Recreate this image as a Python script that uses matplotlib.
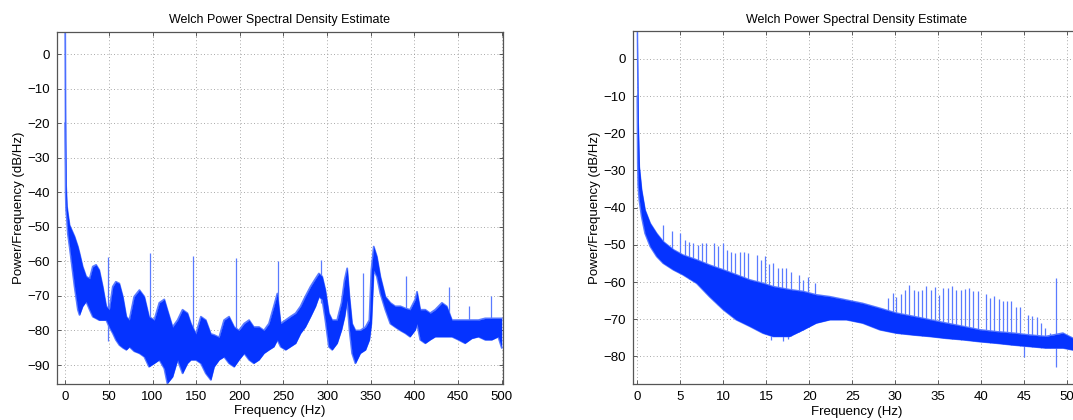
import matplotlib.pyplot as plt
import numpy as np

plt.rcParams.update({
    "font.family": ["Liberation Sans", "DejaVu Sans"],
    "font.size": 8.5})

# ---- left panel: 0-500 Hz, envelope of the PSD (dB/Hz)
f1 = [0, 0.5, 1, 2, 3, 5, 10.7, 14.5, 16.4, 20, 24, 28, 31.6, 35.4, 39, 43, 47, 50.6, 54.5, 58,
      62, 66, 70, 73.5, 79, 85, 90.6, 96, 102, 107.8, 113.5, 117, 123, 128.7, 134.4, 140, 144,
      149.7, 155.4, 161, 166.8, 170.6, 176.3, 182, 187.7, 193.5, 199, 205, 210.6, 216, 222,
      227.7, 233.4, 239, 243, 246.8, 252.5, 258, 264, 269.6, 275, 281, 286.7, 290.6, 294.4,
      298, 302, 305.8, 311.5, 316.5, 320, 323, 325.6, 328.6, 332.4, 338, 344, 348.4, 350.7,
      353.4, 357, 361, 366.7, 372.4, 378, 384, 389.6, 395, 401, 403, 406.7, 412.4, 418, 423.8,
      431.5, 437, 443, 450.5, 458, 465.7, 473.3, 481, 488.6, 496, 500]
hi1 = [8, -25, -38, -44, -46, -49.5, -52.8, -55.7, -57.6, -61.5, -64.4, -65, -61.5, -61, -62.5,
       -67.3, -73, -74, -67.3, -65.9, -66.4, -70.2, -76, -77, -70.2, -68.3, -70.2, -76, -77, -72,
       -71, -74, -79, -77, -74, -75, -78, -81, -76, -77, -81, -81.3, -82, -77, -76, -79, -80, -78,
       -77, -79, -79, -80, -78, -73, -69.3, -78, -77, -76, -75, -73, -70.2, -67.3, -65, -63.5,
       -64.4, -68.3, -75, -77, -77, -72, -65.4, -62, -70.2, -78, -80, -80, -79, -77, -62.5,
       -55.7, -58.6, -64.4, -70.2, -72, -73, -73, -73.6, -74, -71, -68.8, -74, -74, -75, -74, -72,
       -73, -77, -77, -77, -77, -77, -76.5, -76.5, -76.5, -76.5]
lo1 = [-20, -40, -45, -48, -52, -55.7, -67.3, -74, -75.5, -73, -71.6, -74, -76, -76.5, -77, -77,
       -77, -79, -80.8, -82.7, -84.2, -85, -85.6, -84.7, -86, -86.6, -87.6, -90.5, -89.5, -88.5,
       -91, -95.3, -93.4, -88.5, -92.4, -89.5, -88.5, -88.5, -89.5, -92.4, -94.3, -90.5, -88.5,
       -87.6, -89.5, -90.5, -88.5, -86.6, -88.5, -89.5, -88.5, -86.6, -85.6, -84.7, -82.7, -84.7,
       -85.6, -84.7, -83.7, -80.8, -79, -76, -73, -70.2, -71, -77, -84.7, -85.6, -83.7, -79.8,
       -76, -71.2, -79.8, -86.6, -89.5, -86.6, -85.6, -82.7, -78, -62.5, -64.4, -69.3, -74, -78,
       -79, -80, -80.8, -81.8, -79.8, -78, -82.7, -83.7, -82.7, -81.8, -81.8, -81.8, -81.8,
       -82.7, -83.7, -82.3, -81.8, -82.7, -82.7, -81.8, -85]
# narrow line components
sp1_f = [48.8, 97.6, 146.4, 195.2, 244, 292.8, 341.6, 390.4, 439.2, 462.7, 488]
sp1_top = [-58.6, -57.6, -58.4, -58.9, -60, -59.7, -63.5, -64.2, -67.3, -73, -70]
sp1_bot = [-83, -88, -86, -86, -80, -72, -84, -80, -80, -82, -81]

# ---- right panel: 0-50 Hz zoom
f2 = [0, 0.05, 0.1, 0.23, 0.5, 0.9, 1.5, 2.25, 3, 4.2, 5.3, 6.9, 8.4, 10, 11.5, 13.1, 14.6, 15.8,
      17.7, 19.3, 20.8, 22.4, 24.3, 26.2, 28.2, 30.1, 32.1, 34, 35.9, 37.9, 39.8, 41.7, 43.7,
      45.6, 47.5, 49.5, 50.6, 51.5]
hi2 = [9, -5, -17, -29, -35.2, -40.6, -44.2, -46.9, -49.1, -51.3, -52.7, -54, -55.4, -56.7, -58,
       -59.4, -60.3, -61.2, -62, -62.5, -63.4, -63.9, -64.8, -65.7, -67, -68.3, -69.2, -70.1, -71,
       -71.9, -72.8, -73.3, -73.7, -74.2, -74.6, -73.7, -75, -75.5]
lo2 = [-10, -28, -34, -38, -42.4, -46.9, -50.4, -53.1, -54.9, -56.7, -58, -60.3, -63.9, -67.4,
       -70.1, -71.9, -73.7, -74.6, -74.6, -72.8, -71, -70.1, -70.1, -71, -72.8, -73.7, -74.2,
       -74.6, -75.1, -75.5, -76, -76.4, -76.9, -77.3, -77.7, -77.7, -78.2, -78.5]
sp2_f = [3.02, 4.03, 4.96, 5.54, 6.04, 6.50, 7.01, 7.47, 7.98, 8.90, 9.41, 9.91, 10.41, 10.88,
         11.38, 11.89, 12.39, 12.89, 13.90, 14.36, 14.87, 15.33, 15.83, 16.34, 16.80, 17.31,
         17.89, 18.82, 19.32, 19.82, 20.71,
         29.19, 29.69, 30.12, 30.62, 31.13, 31.63, 32.13, 32.6, 33.1, 33.6, 34.1, 34.61, 35.07,
         35.58, 36.08, 36.59, 37.09, 37.59, 38.1, 38.6, 39.06, 39.57, 40.53, 41.04, 41.54, 42.04,
         42.51, 43.01, 43.52, 44.02, 44.48, 45.49, 45.95, 46.46, 46.96, 47.46, 47.97, 48.7]
sp2_top = [-44.6, -46.4, -46.7, -48.6, -49.1, -49.5, -50.0, -49.4, -49.4, -49.4, -50.4, -49.5,
           -51.3, -51.8, -52.2, -51.8, -52.0, -52.2, -52.7, -54.0, -53.1, -55.1, -54.9, -56.3,
           -56.3, -56.3, -57.2, -58.1, -59.4, -58.5, -60.3,
           -64.3, -63.0, -63.9, -63.2, -62.1, -60.7, -62.1, -62.3, -62.1, -61.0, -62.1, -61.2,
           -63.4, -61.6, -61.6, -61.0, -62.1, -62.1, -61.9, -61.6, -62.5, -62.5, -63.2, -64.3,
           -63.7, -64.6, -65.2, -65.2, -65.2, -66.7, -66.7, -68.8, -69.2, -69.4, -70.9, -72.4,
           -73.7, -59]
dip2_f = [15.6, 16.9, 17.5, 45.0, 48.7]
dip2_bot = [-75.5, -75.8, -75.3, -80.2, -82.7]

body = "#0533ff"
light = "#5a7bff"

fig = plt.figure(figsize=(10.73, 4.2), dpi=100)
ax1 = fig.add_axes([0.0528, 0.0857, 0.416, 0.8388])
ax2 = fig.add_axes([0.590, 0.0857, 0.4166, 0.8405])


def style(ax, title):
    ax.set_title(title, fontsize=9, pad=6)
    ax.set_xlabel("Frequency (Hz)", fontsize=9.5)
    ax.set_ylabel("Power/Frequency (dB/Hz)", fontsize=9.5)
    ax.grid(True, linestyle=(0, (1, 3)), color="#8c8c8c", linewidth=0.6)
    ax.tick_params(direction="in", top=True, right=True, length=3, width=0.6,
                   color="#444444", labelsize=9.5, pad=5)
    for s in ax.spines.values():
        s.set_color("#555555")
        s.set_linewidth(0.9)
    ax.set_axisbelow(True)
    ax.yaxis.set_label_coords(-0.071, 0.5)
    ax.xaxis.set_label_coords(0.5, -0.061)


# left
ax1.vlines(sp1_f, sp1_bot, sp1_top, color=light, linewidth=0.9, zorder=2)
ax1.fill_between(f1, lo1, hi1, color=body, linewidth=0, zorder=3)
ax1.plot(f1, hi1, color=light, linewidth=1.3, zorder=2.5)
ax1.plot(f1, lo1, color=light, linewidth=1.3, zorder=2.5)
ax1.set_xlim(-9.8, 501.5)
ax1.set_ylim(-95.5, 6.5)
ax1.set_xticks(np.arange(0, 501, 50))
ax1.set_yticks(np.arange(-90, 1, 10))
style(ax1, "Welch Power Spectral Density Estimate")

# right
ax2.vlines(sp2_f, np.interp(sp2_f, f2, lo2), sp2_top, color=light, linewidth=0.9, zorder=2)
ax2.vlines(dip2_f, dip2_bot, np.interp(dip2_f, f2, hi2), color=light, linewidth=0.9, zorder=2)
ax2.fill_between(f2, lo2, hi2, color=body, linewidth=0, zorder=3)
ax2.plot(f2, hi2, color=light, linewidth=1.1, zorder=2.5)
ax2.plot(f2, lo2, color=light, linewidth=1.3, zorder=2.5)
ax2.set_xlim(-0.5, 51.5)
ax2.set_ylim(-87.4, 7.5)
ax2.set_xticks(np.arange(0, 51, 5))
ax2.set_yticks(np.arange(-80, 1, 10))
style(ax2, "Welch Power Spectral Density Estimate")

plt.savefig("out.png", dpi=100)
